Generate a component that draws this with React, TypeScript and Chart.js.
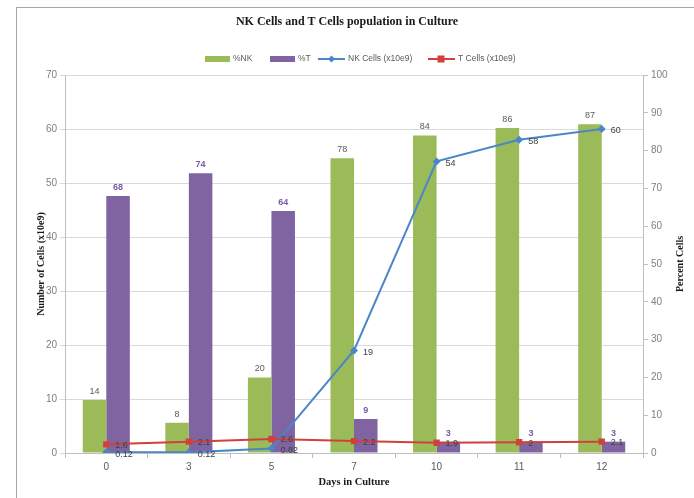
import { useEffect, useRef } from "react";
import { Chart, registerables } from "chart.js";

Chart.register(...registerables);

const days = ["0", "3", "5", "7", "10", "11", "12"];
const pctNK = [14, 8, 20, 78, 84, 86, 87];
const pctT = [68, 74, 64, 9, 3, 3, 3];
const nkCells = [0.12, 0.12, 0.82, 19, 54, 58, 60];
const tCells = [1.6, 2.1, 2.6, 2.2, 1.9, 2, 2.1];
const nkCellLabels = ["0.12", "0.12", "0.82", "19", "54", "58", "60"];
const tCellLabels = ["1.6", "2.1", "2.6", "2.2", "1.9", "2", "2.1"];

const GREEN = "#9bbb59";
const PURPLE = "#8064a2";
const BLUE = "#4a86c8";
const RED = "#d0413c";

const W = 694;
const H = 498;

const extrasPlugin = {
  id: "extras",
  beforeDraw(chart: any) {
    const ctx = chart.ctx;
    ctx.save();
    ctx.fillStyle = "#ffffff";
    ctx.fillRect(0, 0, W, H);
    ctx.strokeStyle = "#a6a6a6";
    ctx.lineWidth = 1;
    ctx.strokeRect(16.5, 7.5, W + 20, H + 20);
    ctx.restore();
  },
  afterDraw(chart: any) {
    const ctx = chart.ctx;
    const area = chart.chartArea;
    ctx.save();
    // title
    ctx.fillStyle = "#1a1a1a";
    ctx.font = "bold 12px 'Liberation Serif'";
    ctx.textAlign = "center";
    ctx.textBaseline = "middle";
    ctx.fillText("NK Cells and T Cells population in Culture", 347, 22);

    // legend
    const ly = 59;
    ctx.font = "8.5px 'Liberation Sans'";
    ctx.textAlign = "left";
    ctx.fillStyle = GREEN;
    ctx.fillRect(205, ly - 3, 25, 6);
    ctx.fillStyle = "#595959";
    ctx.fillText("%NK", 233, ly);
    ctx.fillStyle = PURPLE;
    ctx.fillRect(270, ly - 3, 25, 6);
    ctx.fillStyle = "#595959";
    ctx.fillText("%T", 298, ly);
    // NK line
    ctx.strokeStyle = BLUE;
    ctx.lineWidth = 2;
    ctx.beginPath();
    ctx.moveTo(318, ly);
    ctx.lineTo(345, ly);
    ctx.stroke();
    ctx.fillStyle = BLUE;
    ctx.beginPath();
    ctx.moveTo(331.5, ly - 3.5);
    ctx.lineTo(335, ly);
    ctx.lineTo(331.5, ly + 3.5);
    ctx.lineTo(328, ly);
    ctx.closePath();
    ctx.fill();
    ctx.fillStyle = "#595959";
    ctx.fillText("NK Cells (x10e9)", 348, ly);
    // T line
    ctx.strokeStyle = RED;
    ctx.beginPath();
    ctx.moveTo(428, ly);
    ctx.lineTo(455, ly);
    ctx.stroke();
    ctx.fillStyle = RED;
    ctx.fillRect(437.5, ly - 3.5, 7, 7);
    ctx.fillStyle = "#595959";
    ctx.fillText("T Cells (x10e9)", 458, ly);

    // axis titles
    ctx.fillStyle = "#1a1a1a";
    ctx.font = "bold 10px 'Liberation Serif'";
    ctx.textAlign = "center";
    ctx.save();
    ctx.translate(41, (area.top + area.bottom) / 2);
    ctx.rotate(-Math.PI / 2);
    ctx.fillText("Number of Cells (x10e9)", 0, 0);
    ctx.restore();
    ctx.save();
    ctx.translate(680, (area.top + area.bottom) / 2);
    ctx.rotate(-Math.PI / 2);
    ctx.fillText("Percent Cells", 0, 0);
    ctx.restore();
    ctx.font = "bold 10.5px 'Liberation Serif'";
    ctx.fillText("Days in Culture", (area.left + area.right) / 2, 482);
    ctx.restore();
  },
  afterDatasetsDraw(chart: any) {
    const ctx = chart.ctx;
    ctx.save();
    ctx.textBaseline = "alphabetic";
    // bar labels
    const mNK = chart.getDatasetMeta(0);
    const mT = chart.getDatasetMeta(1);
    ctx.textAlign = "center";
    ctx.font = "9px 'Liberation Sans'";
    ctx.fillStyle = "#595959";
    mNK.data.forEach((el: any, i: number) => {
      ctx.fillText(String(pctNK[i]), el.x, el.y - 6);
    });
    ctx.font = "bold 9px 'Liberation Sans'";
    ctx.fillStyle = "#7a5aa8";
    mT.data.forEach((el: any, i: number) => {
      ctx.fillText(String(pctT[i]), el.x, el.y - 6);
    });
    // line labels
    ctx.textAlign = "left";
    ctx.textBaseline = "middle";
    ctx.font = "9px 'Liberation Sans'";
    ctx.fillStyle = "#404040";
    const mLN = chart.getDatasetMeta(2);
    mLN.data.forEach((el: any, i: number) => {
      ctx.fillText(nkCellLabels[i], el.x + 9, el.y + 2);
    });
    const mLT = chart.getDatasetMeta(3);
    mLT.data.forEach((el: any, i: number) => {
      ctx.fillText(tCellLabels[i], el.x + 9, el.y + 1);
    });
    ctx.restore();
  },
};

export default function App() {
  const ref = useRef<HTMLCanvasElement | null>(null);
  useEffect(() => {
    if (!ref.current) return;
    const tickFont = { family: "'Liberation Sans'", size: 10 };
    const chart = new Chart(ref.current, {
      type: "bar",
      data: {
        labels: days,
        datasets: [
          {
            type: "bar",
            label: "%NK",
            data: pctNK,
            backgroundColor: GREEN,
            yAxisID: "y1",
            order: 2,
            categoryPercentage: 0.57,
            barPercentage: 1,
          },
          {
            type: "bar",
            label: "%T",
            data: pctT,
            backgroundColor: PURPLE,
            yAxisID: "y1",
            order: 2,
            categoryPercentage: 0.57,
            barPercentage: 1,
          },
          {
            type: "line",
            label: "NK Cells (x10e9)",
            data: nkCells,
            borderColor: BLUE,
            backgroundColor: BLUE,
            borderWidth: 2,
            pointStyle: "rectRot",
            pointRadius: 4,
            pointBorderWidth: 0,
            tension: 0,
            yAxisID: "y",
            order: 1,
          },
          {
            type: "line",
            label: "T Cells (x10e9)",
            data: tCells,
            borderColor: RED,
            backgroundColor: RED,
            borderWidth: 2,
            pointStyle: "rect",
            pointRadius: 4.5,
            pointBorderWidth: 0,
            tension: 0,
            yAxisID: "y",
            order: 0,
          },
        ] as any,
      },
      options: {
        animation: false,
        responsive: false,
        layout: { padding: { top: 75, left: 16, right: 0, bottom: 0 } },
        plugins: {
          legend: { display: false },
          title: { display: false },
          tooltip: { enabled: false },
        },
        scales: {
          x: {
            offset: true,
            grid: {
              display: true,
              drawOnChartArea: false,
              drawTicks: true,
              tickLength: 5,
              offset: true,
              color: "#bfbfbf",
            },
            border: { color: "#bfbfbf" },
            ticks: { font: tickFont, color: "#595959", padding: 3 },
            afterFit: (s: any) => {
              s.height = 45;
            },
          },
          y: {
            position: "left",
            min: 0,
            max: 70,
            ticks: { stepSize: 10, font: tickFont, color: "#7f7f7f", padding: 3 },
            grid: { color: "#d9d9d9", tickLength: 5 },
            border: { color: "#bfbfbf" },
            afterFit: (s: any) => {
              s.width = 49;
            },
          },
          y1: {
            position: "right",
            min: 0,
            max: 100,
            ticks: { stepSize: 10, font: tickFont, color: "#7f7f7f", padding: 3 },
            grid: { drawOnChartArea: false, tickLength: 5, color: "#bfbfbf" },
            border: { color: "#bfbfbf" },
            afterFit: (s: any) => {
              s.width = 51;
            },
          },
        },
      },
      plugins: [extrasPlugin],
    });
    return () => chart.destroy();
  }, []);
  return (
    <div style={{ position: "absolute", left: 0, top: 0, width: W, height: H }}>
      <canvas ref={ref} width={W} height={H} style={{ display: "block" }} />
    </div>
  );
}
